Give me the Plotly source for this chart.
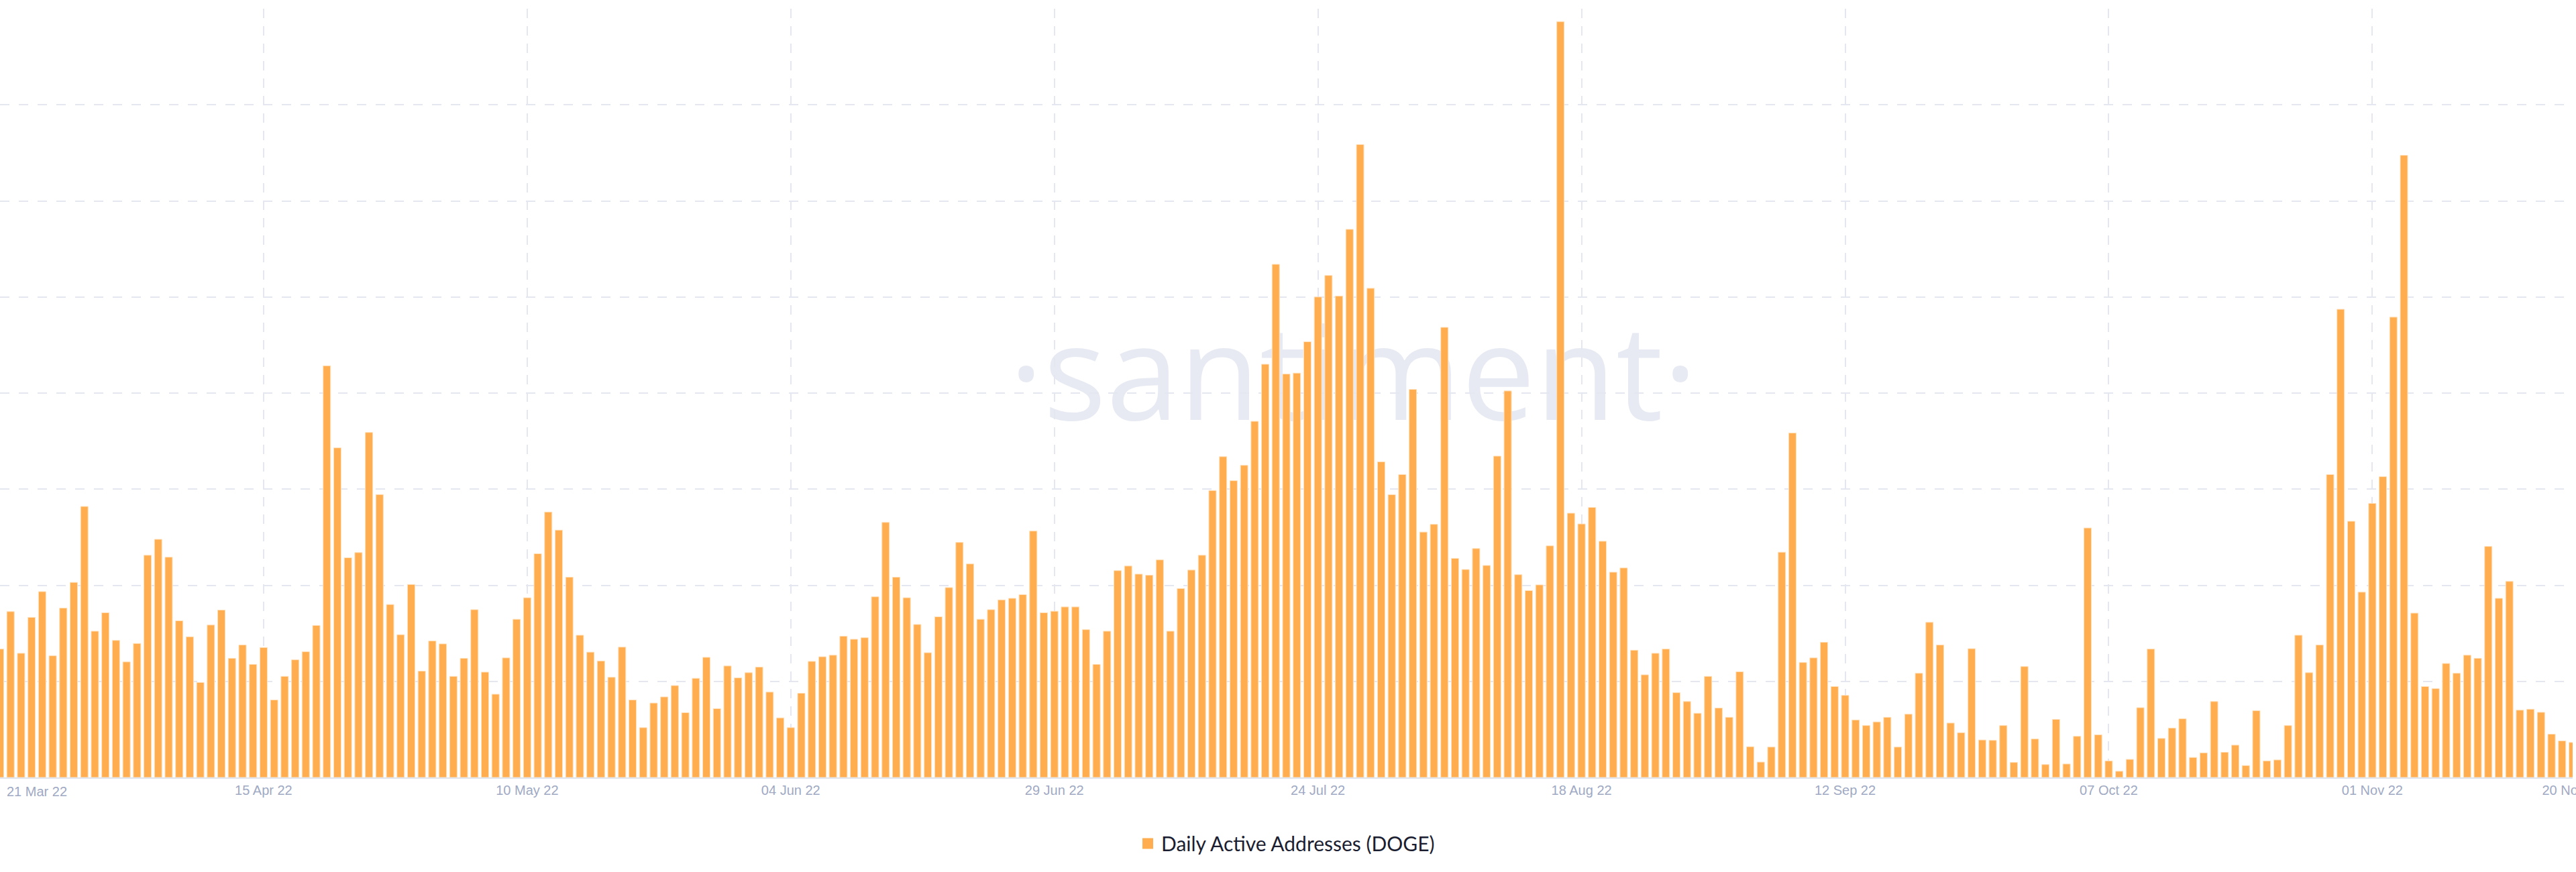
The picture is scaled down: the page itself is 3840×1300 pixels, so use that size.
import pandas as pd
import plotly.graph_objects as go

# ---- data -------------------------------------------------------------
dates = pd.date_range("2022-03-21", "2022-11-20", freq="D")

# daily active addresses, thousands
active_addresses_k = [
    66.8, 86.3, 64.6, 83.3, 96.7, 63.3, 88.1, 101.5, 141.0, 76.1,
    85.7, 71.3, 60.1, 69.7, 115.6, 123.9, 114.6, 81.5, 73.2, 49.4,
    79.3, 87.1, 62.0, 68.9, 58.8, 67.6, 40.3, 52.6, 61.2, 65.4,
    79.1, 214.2, 171.5, 114.3, 117.0, 179.5, 147.2, 90.0, 74.3, 100.4,
    55.3, 71.0, 69.5, 52.6, 62.0, 87.3, 54.8, 43.3, 62.2, 82.3,
    93.5, 116.4, 138.1, 128.7, 104.2, 74.0, 65.2, 60.6, 52.1, 67.8,
    40.3, 25.9, 38.7, 41.9, 47.8, 33.7, 51.6, 62.5, 35.8, 58.0,
    51.8, 54.5, 57.4, 44.4, 31.0, 25.9, 43.8, 60.4, 62.8, 63.6,
    73.5, 71.9, 72.7, 94.0, 132.7, 104.2, 93.5, 79.6, 64.9, 83.6,
    98.8, 122.3, 111.1, 82.3, 87.3, 92.4, 93.2, 95.1, 128.2, 85.7,
    86.5, 88.7, 88.7, 76.9, 58.8, 76.1, 107.6, 110.0, 105.8, 105.2,
    113.2, 76.1, 98.3, 107.9, 115.6, 149.3, 166.9, 154.4, 162.4, 185.3,
    215.0, 267.0, 209.9, 210.4, 226.7, 250.0, 261.2, 250.5, 285.2, 329.3,
    254.5, 164.2, 147.1, 157.6, 201.9, 127.7, 131.7, 234.2, 114.0, 108.2,
    119.1, 110.3, 167.2, 201.1, 105.5, 97.2, 100.2, 120.5, 393.3, 137.5,
    131.9, 140.5, 122.9, 106.8, 109.0, 66.2, 53.4, 64.6, 66.8, 44.1,
    39.5, 33.4, 52.6, 36.1, 31.3, 55.0, 16.0, 8.0, 15.8, 117.2,
    179.2, 59.8, 62.2, 70.3, 47.3, 42.7, 29.9, 27.0, 28.9, 31.3,
    15.8, 32.9, 54.2, 80.7, 68.9, 28.3, 23.3, 67.0, 19.5, 19.3,
    27.0, 7.8, 57.7, 20.0, 6.7, 30.2, 7.0, 21.4, 129.8, 22.2,
    8.6, 3.2, 9.4, 36.3, 66.8, 20.3, 25.7, 30.5, 10.4, 12.8,
    39.5, 13.1, 16.8, 6.2, 34.7, 8.6, 9.1, 27.0, 74.0, 54.5,
    68.9, 157.6, 243.6, 133.3, 96.4, 142.6, 156.5, 239.5, 323.7, 85.5,
    47.3, 46.2, 59.3, 54.2, 63.6, 62.0, 120.2, 93.2, 102.0, 35.0,
    35.5, 33.9, 22.5, 19.0, 18.2,
]

tick_dates = ["2022-03-21", "2022-04-15", "2022-05-10", "2022-06-04",
              "2022-06-29", "2022-07-24", "2022-08-18", "2022-09-12",
              "2022-10-07", "2022-11-01", "2022-11-20"]
tick_labels = ["", "15 Apr 22", "10 May 22", "04 Jun 22", "29 Jun 22",
               "24 Jul 22", "18 Aug 22", "12 Sep 22", "07 Oct 22",
               "01 Nov 22", "20 Nov 22"]
first_tick_label = "21 Mar 22"
y_grid_values = [0, 50, 100, 150, 200, 250, 300, 350, 400]
series_name = "Daily Active Addresses (DOGE)"
watermark = "\u00b7santiment\u00b7"

# ---- style ------------------------------------------------------------
BAR = "#FFAD4E"
GRID = "#E4E7F0"
TICK = "#A0A9C3"

fig = go.Figure()
fig.add_trace(go.Bar(
    x=dates, y=active_addresses_k,
    marker=dict(color=BAR, line=dict(color="#FFE1BC", width=1)),
    showlegend=False, hoverinfo="x+y",
))
# legend entry
fig.add_trace(go.Scatter(
    x=[None], y=[None], mode="markers", name=series_name,
    marker=dict(symbol="square", size=16, color=BAR),
))

fig.add_shape(
    type="rect", xref="paper", yref="paper",
    x0=0.30, x1=0.752, y0=0.40, y1=0.64,
    line=dict(width=0), fillcolor="rgba(0,0,0,0)", layer="below",
    label=dict(text=watermark, textposition="middle center",
               font=dict(family="Open Sans", size=196, color="#E7EAF3")),
)

fig.add_annotation(
    x=tick_dates[0], xref="x", y=0, yref="paper",
    text=first_tick_label, showarrow=False,
    xanchor="left", yanchor="top", xshift=8, yshift=-8,
    font=dict(family="Liberation Sans", size=20, color=TICK),
)

fig.update_layout(
    width=3840, height=1300,
    margin=dict(l=0, r=5, t=13, b=141, autoexpand=False),
    plot_bgcolor="white", paper_bgcolor="white",
    bargap=0.3,
    legend=dict(orientation="h", x=0.5, xanchor="center",
                y=-0.086, yanchor="middle",
                font=dict(family="Lato", size=30, color="#1B1E30"),
                bgcolor="rgba(0,0,0,0)"),
)
fig.update_xaxes(
    type="date", automargin=False,
    range=[dates[0], dates[-1]],
    tickvals=tick_dates, ticktext=tick_labels,
    ticks="", ticklabeloverflow="allow",
    tickfont=dict(family="Liberation Sans", size=20, color=TICK),
    showgrid=True, gridcolor=GRID, gridwidth=2, griddash="14px,12px",
    showline=True, linecolor="#DFE3EC", linewidth=2,
    zeroline=False, fixedrange=True,
)
fig.update_yaxes(
    range=[0, 400], tickvals=y_grid_values, automargin=False,
    showticklabels=False, ticks="",
    showgrid=True, gridcolor=GRID, gridwidth=2, griddash="14px,14px",
    zeroline=False, showline=False, fixedrange=True,
)

fig.write_html("out.html", config={"displayModeBar": False},
               post_script="document.body.style.margin='0';"
                           "document.body.style.overflow='hidden';")
